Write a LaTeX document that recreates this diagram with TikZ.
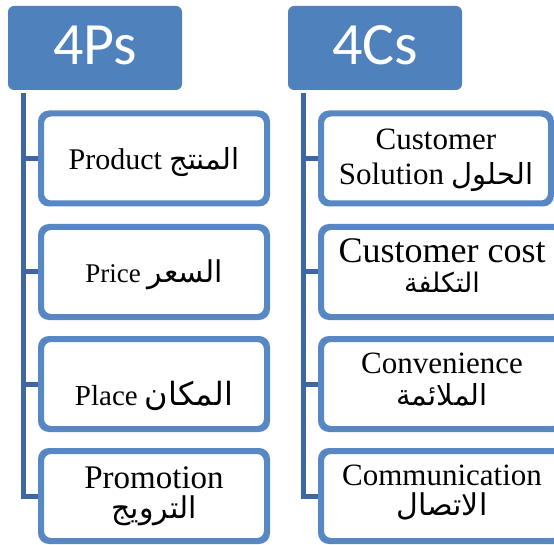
\documentclass[tikz,border=0pt]{standalone}
\usepackage{fontspec}
\setmainfont{Liberation Serif}
\newfontfamily\hdfont{Carlito}
\newfontfamily\arfont[Script=Arabic]{DejaVu Sans}
\TeXXeTstate=1
\newcommand{\ar}[2]{{\arfont\fontsize{#1}{#1}\selectfont\beginR #2\endR}}
\definecolor{headblue}{RGB}{79,129,189}
\definecolor{trunkblue}{RGB}{62,102,160}
\definecolor{boxblue}{RGB}{88,136,196}
\tikzset{
  header/.style={fill=headblue, rounded corners=6pt, minimum width=174pt,
    minimum height=84pt, inner sep=0pt},
  headtext/.style={anchor=base, text=white, font=\hdfont\fontsize{60}{60}\selectfont, inner sep=0pt},
  itembox/.style={draw=boxblue, line width=4pt, fill=white, rounded corners=9pt,
    minimum height=88pt, inner sep=0pt},
  trunk/.style={draw=trunkblue, line width=5pt},
  outline/.style={draw=boxblue, line width=4pt, rounded corners=9pt},
  lbl/.style={anchor=base, inner sep=0pt},
}
\begin{document}
\begin{tikzpicture}[x=1pt, y=-1pt]
\useasboundingbox (0,0) rectangle (554,545);
\clip (0,0) rectangle (554,545);

% column headers
\node[header] (h1) at (95,48) {};
\node[headtext] (h1t) at (95,65) {4Ps};
\node[header] (h2) at (375,48) {};
\node[headtext] (h2t) at (375,65) {4Cs};

% trunk anchors below the headers
\coordinate (t1) at (23,93);
\coordinate (t2) at (303,93);

% boxes of the left column
\node[itembox, minimum width=224pt] (p1) at (154,158.5) {};
\node[itembox, minimum width=224pt] (p2) at (154,272) {};
\node[itembox, minimum width=224pt] (p3) at (154,384) {};
\node[itembox, minimum width=224pt] (p4) at (154,496) {};

% boxes of the right column
\node[itembox, minimum width=228pt] (c1) at (436,158.5) {};
\node[itembox, minimum width=240pt] (c2) at (442,272) {};
\node[itembox, minimum width=240pt] (c3) at (442,384) {};
\node[itembox, minimum width=240pt] (c4) at (442,496) {};

% trunks and branches
\draw[trunk] (t1) -- (t1 |- p4.west) -- (p4.west);
\draw[trunk] (t1 |- p1.west) -- (p1.west);
\draw[trunk] (t1 |- p2.west) -- (p2.west);
\draw[trunk] (t1 |- p3.west) -- (p3.west);
\draw[trunk] (t2) -- (t2 |- c4.west) -- (c4.west);
\draw[trunk] (t2 |- c1.west) -- (c1.west);
\draw[trunk] (t2 |- c2.west) -- (c2.west);
\draw[trunk] (t2 |- c3.west) -- (c3.west);

% box outlines over the branch ends
\foreach \b in {p1,p2,p3,p4,c1,c2,c3,c4}{
  \draw[outline] (\b.south west) rectangle (\b.north east);
}

% left column texts
\node[lbl, font=\fontsize{30}{30}\selectfont] (p1a) at ([yshift=-11.5pt]p1.center)
  {Product \ar{29}{المنتج}};
\node[lbl, font=\fontsize{27}{27}\selectfont] (p2a) at ([yshift=-11pt]p2.center)
  {Price \ar{30}{السعر}};
\node[lbl, font=\fontsize{29}{29}\selectfont] (p3a) at ([yshift=-21pt]p3.center)
  {Place \ar{32}{المكان}};
\node[lbl, font=\fontsize{33}{33}\selectfont] (p4a) at ([yshift=8pt]p4.center) {Promotion};
\node[lbl] (p4b) at ([yshift=-22pt]p4.center) {\ar{30}{الترويج}};

% right column texts
\node[lbl, font=\fontsize{31}{31}\selectfont] (c1a) at ([yshift=8.5pt]c1.center) {Customer};
\node[lbl, font=\fontsize{31}{31}\selectfont] (c1b) at ([yshift=-26.5pt]c1.center)
  {Solution \ar{29}{الحلول}};
\node[lbl, font=\fontsize{36}{36}\selectfont] (c2a) at ([yshift=9pt]c2.center) {Customer cost};
\node[lbl] (c2b) at ([yshift=-20pt]c2.center) {\ar{27}{التكلفة}};
\node[lbl, font=\fontsize{31}{31}\selectfont] (c3a) at ([yshift=11pt]c3.center) {Convenience};
\node[lbl] (c3b) at ([yshift=-21pt]c3.center) {\ar{29}{الملائمة}};
\node[lbl, font=\fontsize{31}{31}\selectfont] (c4a) at ([yshift=11pt]c4.center) {Communication};
\node[lbl] (c4b) at ([yshift=-19pt]c4.center) {\ar{30}{الاتصال}};
\end{tikzpicture}
\end{document}
